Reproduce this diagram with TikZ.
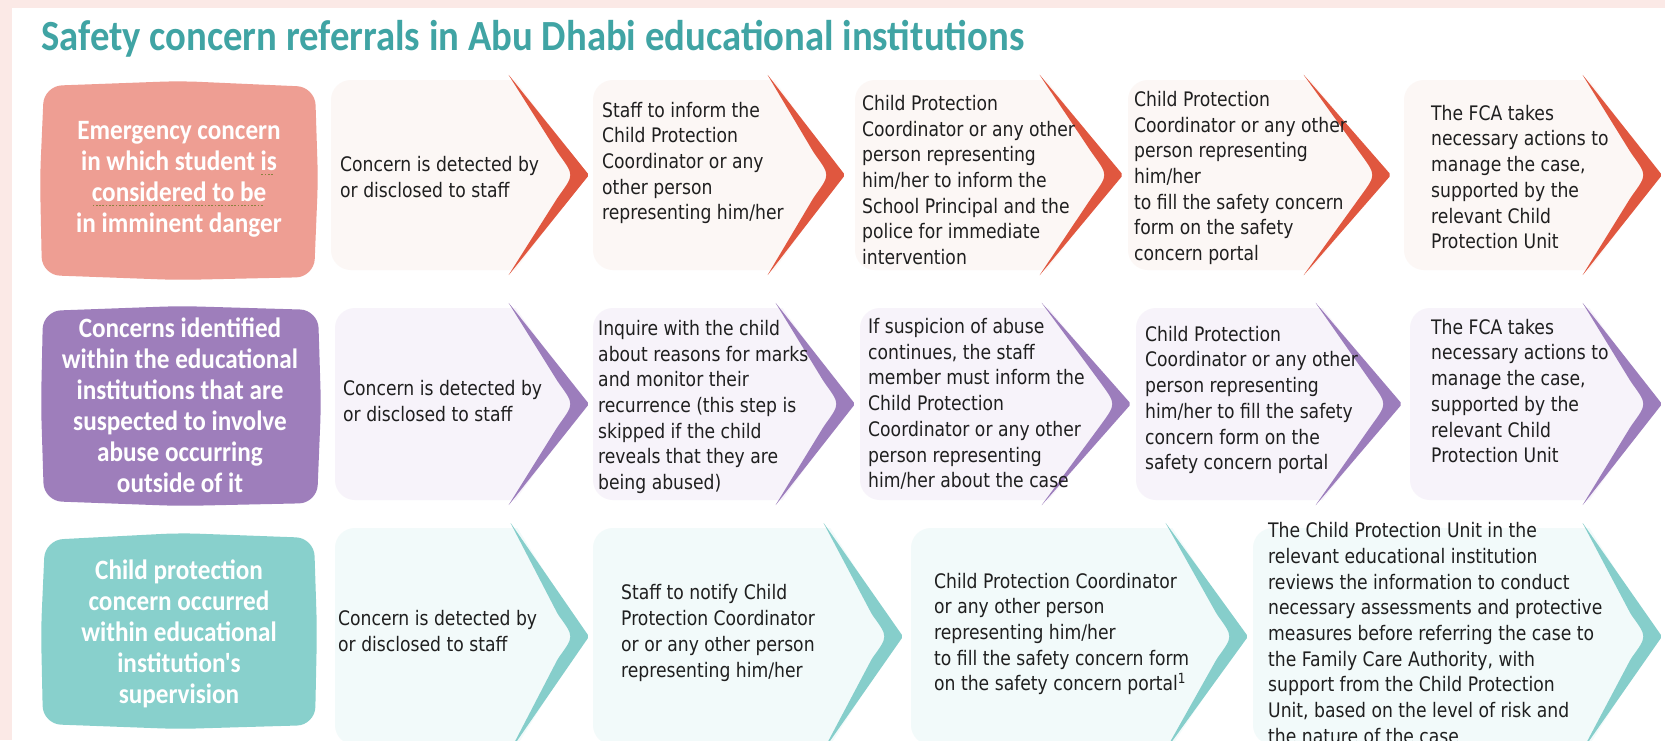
\documentclass[tikz,border=0pt]{standalone}
\usepackage{fontspec}
\usetikzlibrary{positioning,calc}
\newfontfamily\stepfont{DejaVu Sans}[FakeStretch=0.86]
\newfontfamily\headfont{Carlito}[FakeStretch=0.9]
\definecolor{framepink}{HTML}{FBE9E6}
\definecolor{titleteal}{HTML}{40A4A4}
\definecolor{emred}{HTML}{E0573F}
\definecolor{emlabel}{HTML}{EE9E93}
\definecolor{emfill}{HTML}{FCF7F5}
\definecolor{abpurple}{HTML}{9C7DBC}
\definecolor{ablabel}{HTML}{9E7EBB}
\definecolor{abfill}{HTML}{F7F3FA}
\definecolor{cpteal}{HTML}{86CECB}
\definecolor{cplabel}{HTML}{88D0CC}
\definecolor{cpfill}{HTML}{F2FAFA}
\definecolor{dotline}{HTML}{8C8240}
\tikzset{
  steptext/.style={anchor=west,inner sep=0pt,align=left,text=black!88,
    font=\stepfont\fontsize{20}{25.7}\selectfont},
  labeltext/.style={inner sep=0pt,align=center,text=white,
    font=\headfont\bfseries\fontsize{28}{31}\selectfont},
  labelbox/.style={rounded corners=18pt}
}
% dotted underline as in the source (spell-check marks)
\newcommand\dotul[1]{\setbox0\hbox{#1}\rlap{\lower5pt\hbox to \wd0{\color{dotline}%
  \leaders\hbox{\kern0.8pt\rule{1.7pt}{1.7pt}\kern0.8pt}\hfill}}\box0}
% #1 left, #2 start of the accent, #3 tip, #4 top, #5 bottom, #6 fill, #7 accent
\newcommand{\chevronstep}[7]{%
  \pgfmathsetmacro{\chevmid}{(#4+#5)/2}
  \begin{scope}
    \clip (#1-2,#4-2) -- (#2+6,#4-2) -- (#3-4,\chevmid) -- (#2+6,#5+2) -- (#1-2,#5+2) -- cycle;
    \fill[#6,rounded corners=20pt] (#1,#4) rectangle (#3,#5);
  \end{scope}
  \fill[#7,rounded corners=2pt] (#2,#4-6) -- (#3,\chevmid) -- (#2,#5+6)
    -- (#3-31,\chevmid+22) .. controls (#3-15,\chevmid) .. (#3-31,\chevmid-22) -- cycle;
}

\begin{document}
\begin{tikzpicture}[x=1pt,y=-1pt]
  \clip (0,0) rectangle (1665,740);
  \fill[framepink] (0,0) rectangle (1665,740);
  \fill[white] (12,8) rectangle (1665,740);

  \node[anchor=base west,inner sep=0pt,text=titleteal,
    font=\headfont\bfseries\fontsize{43}{47}\selectfont] (title) at (41,50)
    {Safety concern referrals in Abu Dhabi educational institutions};

  % emergency row
  \fill[emlabel,labelbox] (44,86) -- (180,81) -- (315,87) -- (318,180) -- (314,277)
    -- (178,280) -- (42,275) -- (40,178) -- cycle;
  \node[labeltext] (emergency) at (179,179)
    {Emergency concern\\in which student \dotul{is}\\\dotul{considered to be}\\in imminent danger};
  \chevronstep{331}{508}{589}{80}{270}{emfill}{emred}
  \chevronstep{593}{767}{845}{80}{270}{emfill}{emred}
  \chevronstep{855}{1039}{1123}{80}{270}{emfill}{emred}
  \chevronstep{1128}{1303}{1391}{80}{270}{emfill}{emred}
  \chevronstep{1404}{1582}{1662}{80}{270}{emfill}{emred}
  \node[steptext] (em1) at (340,177) {Concern is detected by\\or disclosed to staff};
  \node[steptext] (em2) at (602,163) {Staff to inform the\\Child Protection\\Coordinator or any\\other person\\representing him/her};
  \node[steptext] (em3) at (862,180) {Child Protection\\Coordinator or any other\\person representing\\him/her to inform the\\School Principal and the\\police for immediate\\intervention};
  \node[steptext] (em4) at (1134,178) {Child Protection\\Coordinator or any other\\person representing\\him/her\\to fill the safety concern\\form on the safety\\concern portal};
  \node[steptext] (em5) at (1431,177) {The FCA takes\\necessary actions to\\manage the case,\\supported by the\\relevant Child\\Protection Unit};

  % abuse outside row
  \fill[ablabel,labelbox] (43,311) -- (180,306) -- (318,310) -- (321,405) -- (317,503)
    -- (180,506) -- (44,501) -- (41,405) -- cycle;
  \node[labeltext] (abuse) at (180,405)
    {Concerns identified\\within the educational\\institutions that are\\suspected to involve\\abuse occurring\\outside of it};
  \chevronstep{335}{508}{589}{308}{500}{abfill}{abpurple}
  \chevronstep{593}{775}{855}{308}{500}{abfill}{abpurple}
  \chevronstep{860}{1041}{1131}{308}{500}{abfill}{abpurple}
  \chevronstep{1136}{1315}{1402}{308}{500}{abfill}{abpurple}
  \chevronstep{1410}{1582}{1662}{308}{500}{abfill}{abpurple}
  \node[steptext] (ab1) at (343,401) {Concern is detected by\\or disclosed to staff};
  \node[steptext] (ab2) at (598,407) {Inquire with the child\\about reasons for marks\\and monitor their\\recurrence (this step is\\skipped if the child\\reveals that they are\\being abused)};
  \node[steptext] (ab3) at (868,404) {If suspicion of abuse\\continues, the staff\\member must inform the\\Child Protection\\Coordinator or any other\\person representing\\him/her about the case};
  \node[steptext] (ab4) at (1145,400) {Child Protection\\Coordinator or any other\\person representing\\him/her to fill the safety\\concern form on the\\safety concern portal};
  \node[steptext] (ab5) at (1431,391) {The FCA takes\\necessary actions to\\manage the case,\\supported by the\\relevant Child\\Protection Unit};

  % supervision row
  \fill[cplabel,labelbox] (45,540) -- (180,533) -- (314,538) -- (317,630) -- (315,725)
    -- (178,729) -- (43,724) -- (41,630) -- cycle;
  \node[labeltext] (supervision) at (179,634)
    {Child protection\\concern occurred\\within educational\\institution's\\supervision};
  \chevronstep{335}{510}{589}{528}{745}{cpfill}{cpteal}
  \chevronstep{593}{823}{903}{528}{745}{cpfill}{cpteal}
  \chevronstep{911}{1165}{1248}{528}{745}{cpfill}{cpteal}
  \chevronstep{1253}{1582}{1662}{528}{745}{cpfill}{cpteal}
  \node[steptext] (cp1) at (338,631) {Concern is detected by\\or disclosed to staff};
  \node[steptext] (cp2) at (621,633) {Staff to notify Child\\Protection Coordinator\\or or any other person\\representing him/her};
  \node[steptext] (cp3) at (934,634) {Child Protection Coordinator\\or any other person\\representing him/her\\to fill the safety concern form\\on the safety concern portal\textsuperscript{1}};
  \node[steptext] (cp4) at (1268,633) {The Child Protection Unit in the\\relevant educational institution\\reviews the information to conduct\\necessary assessments and protective\\measures before referring the case to\\the Family Care Authority, with\\support from the Child Protection\\Unit, based on the level of risk and\\the nature of the case};
\end{tikzpicture}
\end{document}
